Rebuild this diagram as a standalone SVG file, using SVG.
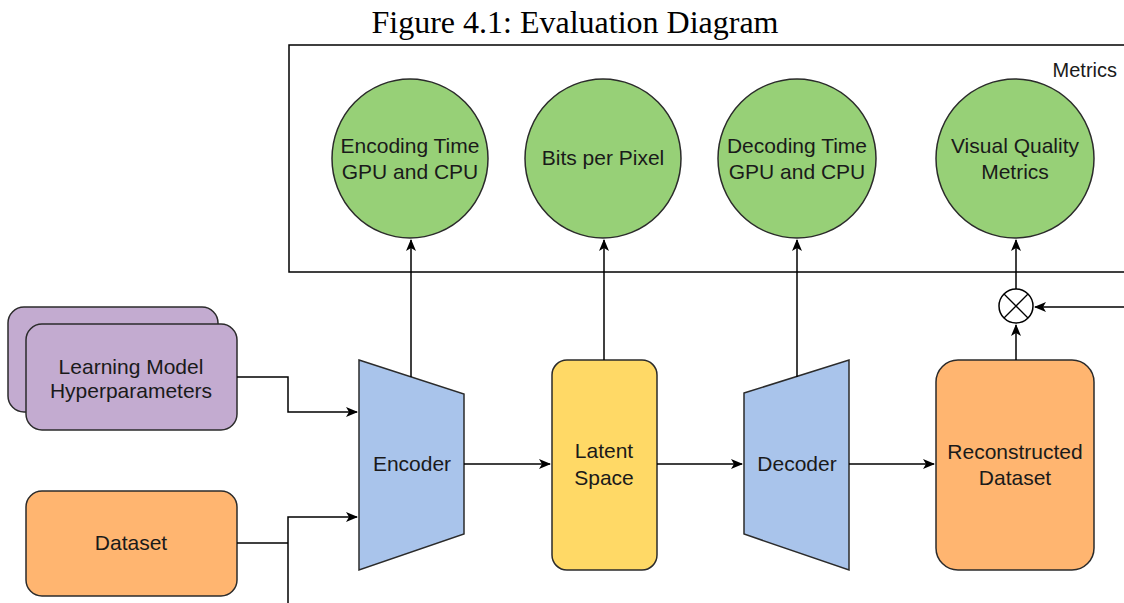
<svg xmlns="http://www.w3.org/2000/svg" width="1124" height="603" viewBox="0 0 1124 603">
  <defs>
    <marker id="arrow" viewBox="0 0 12 10" refX="11" refY="5" markerWidth="12" markerHeight="10" markerUnits="userSpaceOnUse" orient="auto">
      <path d="M0,0 L12,5 L0,10 L3,5 Z" fill="#000"/>
    </marker>
    <style>
      .lbl { font-family: "Liberation Sans", Arial, Helvetica, sans-serif; font-size: 21px; fill: #1a1a1a; text-anchor: middle; }
      .title { font-family: "Liberation Serif", "Times New Roman", serif; font-size: 32px; fill: #000; text-anchor: middle; }
      .edge { fill: none; stroke: #000; stroke-width: 1.5; }
      .shape { stroke: #2b2b2b; stroke-width: 1.5; }
      .metric { fill: #97D077; }
      .coder { fill: #A9C4EB; }
      .latent { fill: #FFD966; }
      .data { fill: #FFB570; }
      .hyper { fill: #C3ABD0; }
    </style>
  </defs>

  <rect width="1124" height="603" fill="#fff"/>

  <text class="title" x="575" y="33">Figure 4.1: Evaluation Diagram</text>

  <!-- Metrics container -->
  <g id="metrics">
    <rect x="289" y="45" width="850" height="227" fill="#fff" stroke="#000" stroke-width="1.5"/>
    <text class="lbl" x="1117" y="77" style="text-anchor:end;font-size:20px">Metrics</text>
  </g>

  <g id="encoding-time">
    <ellipse class="shape metric" cx="410" cy="158.5" rx="78" ry="79.5"/>
    <text class="lbl" x="410" y="153">Encoding Time</text>
    <text class="lbl" x="410" y="179">GPU and CPU</text>
  </g>
  <g id="bits-per-pixel">
    <ellipse class="shape metric" cx="603" cy="158.5" rx="78" ry="79.5"/>
    <text class="lbl" x="603" y="165">Bits per Pixel</text>
  </g>
  <g id="decoding-time">
    <ellipse class="shape metric" cx="797" cy="158.5" rx="79" ry="79.5"/>
    <text class="lbl" x="797" y="153">Decoding Time</text>
    <text class="lbl" x="797" y="179">GPU and CPU</text>
  </g>
  <g id="visual-quality">
    <ellipse class="shape metric" cx="1015" cy="158.5" rx="79" ry="79.5"/>
    <text class="lbl" x="1015" y="153">Visual Quality</text>
    <text class="lbl" x="1015" y="179">Metrics</text>
  </g>

  <!-- Inputs -->
  <g id="hyperparameters">
    <rect class="shape hyper" x="8" y="307" width="210" height="105" rx="16"/>
    <rect class="shape hyper" x="26" y="324" width="211" height="106" rx="16"/>
    <text class="lbl" x="131" y="374">Learning Model</text>
    <text class="lbl" x="131" y="398">Hyperparameters</text>
  </g>
  <g id="dataset">
    <rect class="shape data" x="26" y="491" width="211" height="105" rx="16"/>
    <text class="lbl" x="131" y="550">Dataset</text>
  </g>

  <!-- Pipeline -->
  <g id="encoder">
    <polygon class="shape coder" points="359,360 464,394 464,534 359,570"/>
    <text class="lbl" x="412" y="471">Encoder</text>
  </g>
  <g id="latent-space">
    <rect class="shape latent" x="552" y="360" width="105" height="210" rx="15"/>
    <text class="lbl" x="604" y="458">Latent</text>
    <text class="lbl" x="604" y="485">Space</text>
  </g>
  <g id="decoder">
    <polygon class="shape coder" points="744,393 849,360 849,570 744,534"/>
    <text class="lbl" x="797" y="471">Decoder</text>
  </g>
  <g id="reconstructed">
    <rect class="shape data" x="936" y="360" width="158" height="210" rx="22"/>
    <text class="lbl" x="1015" y="459">Reconstructed</text>
    <text class="lbl" x="1015" y="485">Dataset</text>
  </g>
  <g id="combine">
    <circle cx="1016" cy="306" r="17" fill="#fff" stroke="#000" stroke-width="1.5"/>
    <path d="M1004,294 L1028,318 M1028,294 L1004,318" stroke="#000" stroke-width="1.3"/>
  </g>

  <!-- Connectors -->
  <g id="connectors">
    <path class="edge" d="M237,377 H288 V412 H357" marker-end="url(#arrow)"/>
    <path class="edge" d="M237,543 H288"/>
    <path class="edge" d="M288,603 V517 H357" marker-end="url(#arrow)"/>
    <path class="edge" d="M464,464 H550" marker-end="url(#arrow)"/>
    <path class="edge" d="M657,464 H742" marker-end="url(#arrow)"/>
    <path class="edge" d="M849,464 H934" marker-end="url(#arrow)"/>
    <path class="edge" d="M411,377 V240" marker-end="url(#arrow)"/>
    <path class="edge" d="M604,360 V240" marker-end="url(#arrow)"/>
    <path class="edge" d="M797,377 V240" marker-end="url(#arrow)"/>
    <path class="edge" d="M1016,360 V325" marker-end="url(#arrow)"/>
    <path class="edge" d="M1124,307 H1035" marker-end="url(#arrow)"/>
    <path class="edge" d="M1016,289 V240" stroke="#555" marker-end="url(#arrow)"/>
  </g>
</svg>
